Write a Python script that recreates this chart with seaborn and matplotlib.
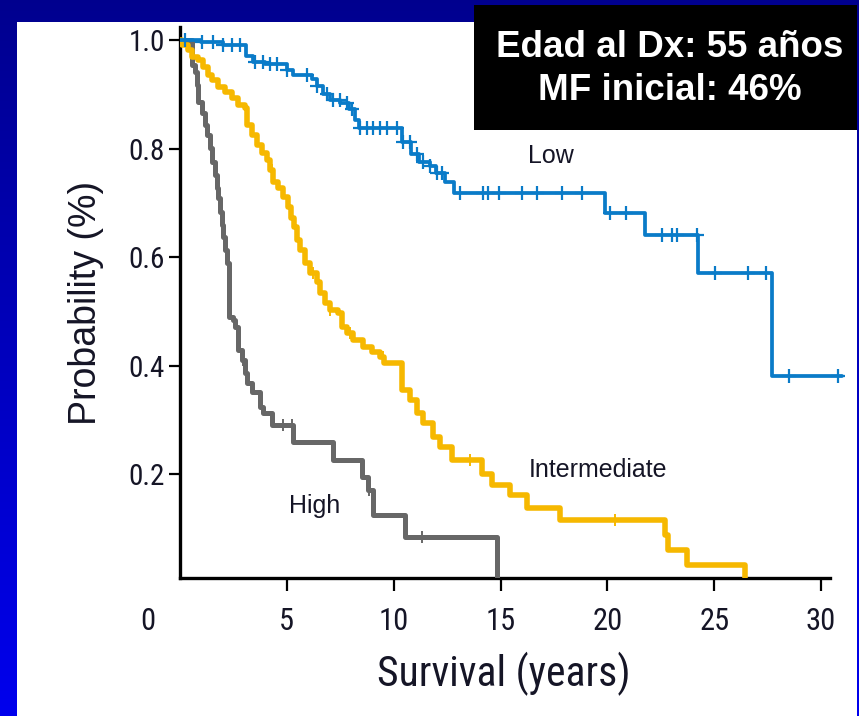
import numpy as np
import pandas as pd
import matplotlib
matplotlib.use("Agg")
import matplotlib.pyplot as plt
import matplotlib.transforms as mtransforms
from matplotlib.patches import Rectangle
from matplotlib import font_manager
import seaborn as sns

# ---------------- Kaplan-Meier data (years, survival probability) ----------------
# Each *_time / *_surv pair lists the step times and the survival level after the
# step; the last entry is the end of follow-up.
low_time = [0, 1.0, 2.0, 3.1, 3.4, 4.0, 5.0, 5.3, 6.2, 6.4, 6.7, 7.0, 7.5, 7.9,
            8.2, 8.4, 10.4, 10.8, 11.2, 11.7, 12.0, 12.4, 12.8, 19.9, 21.75,
            24.25, 27.7, 31.0]
low_surv = [1.0, 0.996, 0.990, 0.970, 0.960, 0.955, 0.945, 0.935, 0.928, 0.915,
            0.900, 0.890, 0.884, 0.872, 0.852, 0.838, 0.812, 0.790, 0.775,
            0.768, 0.755, 0.738, 0.718, 0.681, 0.641, 0.570, 0.381, 0.381]
low_censor = [0.23, 1.03, 1.54, 2.0, 2.43, 2.81, 3.51, 3.88, 4.21, 4.54, 5.0,
              5.94, 6.41, 6.88, 7.16, 7.49, 7.81, 8.05, 8.42, 8.75, 9.03, 9.36,
              9.69, 10.15, 10.43, 10.76, 11.09, 11.37, 11.7, 12.03, 12.26, 13.1,
              14.18, 14.41, 14.93, 16.0, 16.7, 17.88, 18.81, 20.12, 20.87, 22.55,
              23.02, 23.26, 24.2, 25.04, 26.58, 27.42, 28.5, 30.8]

int_time = [0, 0.09, 0.37, 0.56, 0.84, 1.08, 1.31, 1.50, 1.78, 2.11, 2.43, 2.71,
            3.04, 3.14, 3.37, 3.60, 3.84, 4.07, 4.21, 4.35, 4.59, 4.82, 5.05,
            5.19, 5.33, 5.47, 5.62, 5.85, 6.08, 6.41, 6.55, 6.79, 7.02, 7.39,
            7.58, 7.81, 8.10, 8.56, 8.98, 9.36, 9.55, 10.39, 10.76, 11.09, 11.37,
            11.84, 12.17, 12.73, 14.13, 14.60, 15.44, 16.24, 17.78, 22.70, 22.84,
            23.72, 26.44]
int_surv = [1.0, 0.991, 0.982, 0.969, 0.963, 0.950, 0.935, 0.926, 0.913, 0.904,
            0.893, 0.880, 0.875, 0.843, 0.825, 0.806, 0.792, 0.779, 0.760, 0.738,
            0.727, 0.711, 0.692, 0.672, 0.656, 0.631, 0.613, 0.589, 0.570, 0.554,
            0.534, 0.515, 0.502, 0.497, 0.471, 0.460, 0.447, 0.434, 0.425, 0.416,
            0.404, 0.355, 0.336, 0.313, 0.294, 0.268, 0.250, 0.226, 0.200, 0.180,
            0.161, 0.137, 0.115, 0.087, 0.060, 0.032, 0.0]
int_censor = [4.30, 6.22, 7.02, 7.96, 9.50, 13.57, 20.36]

high_time = [0, 0.56, 0.70, 0.80, 0.84, 1.03, 1.17, 1.26, 1.40, 1.50, 1.64, 1.73,
             1.78, 1.87, 1.97, 2.01, 2.11, 2.20, 2.30, 2.48, 2.57, 2.71, 2.90,
             3.04, 3.14, 3.37, 3.74, 3.88, 4.31, 5.29, 7.16, 8.52, 8.80, 9.03,
             10.53, 14.83]
high_surv = [1.0, 0.954, 0.941, 0.917, 0.886, 0.865, 0.843, 0.825, 0.801, 0.775,
             0.751, 0.727, 0.709, 0.683, 0.659, 0.637, 0.613, 0.589, 0.489, 0.484,
             0.471, 0.429, 0.410, 0.386, 0.367, 0.351, 0.324, 0.312, 0.290, 0.259,
             0.226, 0.195, 0.170, 0.124, 0.084, 0.0]
high_censor = [2.15, 2.27, 2.95, 3.84, 4.82, 5.24, 8.85, 11.32]

group_names = ["Low", "Intermediate", "High"]
group_colors = {"Low": "#0A7BC8", "Intermediate": "#F6B800", "High": "#676767"}

x_ticks = [5, 10, 15, 20, 25, 30]
y_ticks = [0.2, 0.4, 0.6, 0.8, 1.0]
y_ticklabels = ["0.2", "0.4", "0.6", "0.8", "1.0"]

box_lines = ["Edad al Dx: 55 años", "MF inicial: 46%"]

# ---------------- style / fonts ----------------
sns.set_theme(style="ticks")
installed = {f.name for f in font_manager.fontManager.ttflist}
narrow = next((n for n in ["Liberation Sans Narrow", "Roboto Condensed", "DejaVu Sans"]
               if n in installed), "DejaVu Sans")
regular = "Liberation Sans" if "Liberation Sans" in installed else "DejaVu Sans"
plt.rcParams["font.family"] = [regular, "DejaVu Sans"]
ink = "#151526"

W, H = 859, 716
fig = plt.figure(figsize=(W / 100, H / 100), dpi=100)

# blue gradient backdrop and white panel
bg = fig.add_axes([0, 0, 1, 1], zorder=-10)
grad = np.linspace(0.0, 1.0, 256)[:, None, None]
top_c = np.array([0.0, 0.0, 0.56])
bot_c = np.array([0.0, 0.0, 0.93])
bg.imshow(top_c + (bot_c - top_c) * grad, aspect="auto", extent=[0, 1, 0, 1])
bg.set_axis_off()
fig.patches.append(Rectangle((17 / W, 0), (857 - 17) / W, (H - 22) / H,
                             transform=fig.transFigure, facecolor="white",
                             edgecolor="none", zorder=-5))

# main axes
x_left, x_right_px = 180, 846.7
ax = fig.add_axes([x_left / W, 1 - 578 / H, (x_right_px - x_left) / W, (578 - 27) / H])
ax.set_facecolor("none")

def step_value(times, surv, t):
    idx = np.searchsorted(np.asarray(times), np.asarray(t), side="right") - 1
    return np.asarray(surv)[idx]

series = {
    "High": (high_time, high_surv, high_censor, 3.6, "|", 70, 1.4),
    "Intermediate": (int_time, int_surv, int_censor, 4.0, "|", 70, 1.4),
    "Low": (low_time, low_surv, low_censor, 2.7, "+", 110, 1.6),
}
for name in ["High", "Intermediate", "Low"]:
    t, s, c, lw, mk, ms, mlw = series[name]
    df = pd.DataFrame({"time": t, "surv": s})
    sns.lineplot(data=df, x="time", y="surv", drawstyle="steps-post",
                 estimator=None, sort=False, color=group_colors[name],
                 linewidth=lw, ax=ax, zorder=3)
    cdf = pd.DataFrame({"time": c, "surv": step_value(t, s, c)})
    sns.scatterplot(data=cdf, x="time", y="surv", marker=mk, s=ms,
                    linewidth=mlw, color=group_colors[name], ax=ax, zorder=4)

ax.set_xlim(0, 31.2)
ax.set_ylim(0.0083, 1.024)
sns.despine(ax=ax)
for side in ["left", "bottom"]:
    ax.spines[side].set_linewidth(2.4)
    ax.spines[side].set_color("black")
ax.spines["bottom"].set_bounds(0, 30.42)

ax.set_xticks(x_ticks)
ax.set_xticklabels([str(v) for v in x_ticks], family=narrow, fontsize=22, color=ink)
ax.set_yticks(y_ticks)
ax.set_yticklabels(y_ticklabels, family=narrow, fontsize=21, color=ink)
ax.tick_params(axis="x", direction="out", length=9, width=1.6, color="black", pad=12)
ax.tick_params(axis="y", direction="out", length=8, width=1.6, color="black", pad=3)

# stand-alone origin label, aligned with the other x tick labels
tick_off = (9 + 12) / 72 * 100 / (578 - 27)
xt = mtransforms.blended_transform_factory(ax.transData, ax.transAxes)
ax.text(-1.5, -tick_off, "0", transform=xt, ha="center", va="top",
        family=narrow, fontsize=22, color=ink)

ax.set_xlabel("Survival (years)", family=narrow, fontsize=30, color=ink)
ax.xaxis.set_label_coords(0.486, -0.135)
ax.set_ylabel("Probability (%)", family=regular, fontsize=27, color=ink)
ax.yaxis.set_label_coords(-0.114, 0.499)

# curve labels
ax.text(17.36, 0.774, "Low", fontsize=18, color=ink, ha="center", va="baseline")
ax.text(19.56, 0.194, "Intermediate", fontsize=18, color=ink, ha="center", va="baseline")
ax.text(6.32, 0.128, "High", fontsize=18, color=ink, ha="center", va="baseline")

# annotation box
fig.patches.append(Rectangle((474 / W, 1 - 130 / H), (857 - 474) / W, (130 - 5) / H,
                             transform=fig.transFigure, facecolor="black",
                             edgecolor="none", zorder=10))
for line, base in zip(box_lines, [57, 100]):
    fig.text(670 / W, 1 - base / H, line, ha="center", va="baseline",
             color="white", fontsize=26.5, fontweight="bold", family=regular,
             zorder=11)

fig.savefig("out.png", dpi=100)
